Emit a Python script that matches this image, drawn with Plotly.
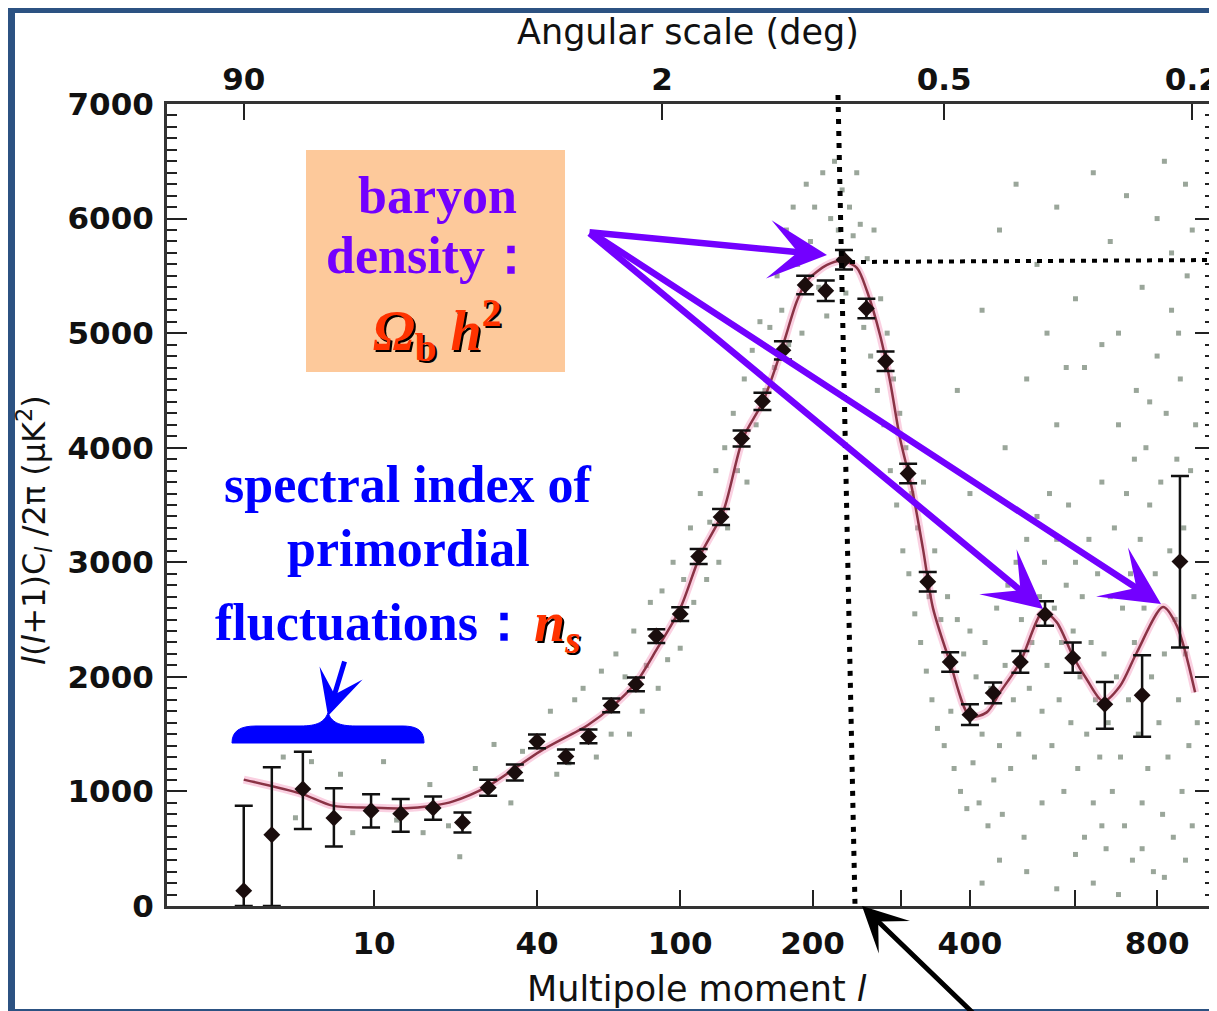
import numpy as np
import plotly.graph_objects as go

# ---------------- data ----------------
ell = [2, 3, 4.5, 6.5, 9.7, 13, 17.5, 22.5, 27.7, 34, 40, 49, 57, 66, 77, 87, 100, 111,
       125.5, 140, 156, 173, 193, 213, 232, 257, 280, 309, 336, 369, 400, 439, 488, 536,
       594, 667, 760, 864]
dl = [134, 622, 1022, 768, 832, 806, 855, 729, 1033, 1165, 1436, 1305, 1480, 1751, 1935,
      2356, 2548, 3050, 3395, 4080, 4405, 4850, 5420, 5370, 5640, 5215, 4755, 3775, 2830,
      2130, 1670, 1860, 2130, 2545, 2165, 1760, 1839, 3006]
err_hi = [742, 589, 324, 259, 143, 128, 100, 88, 70, 70, 60, 60, 60, 60, 60, 60, 60, 65,
          70, 70, 75, 80, 80, 90, 85, 85, 85, 85, 85, 85, 90, 90, 95, 115, 135, 195, 350, 748]
err_lo = [134, 622, 350, 249, 146, 158, 102, 87, 70, 70, 60, 60, 60, 60, 60, 60, 60, 65,
          70, 70, 75, 80, 80, 90, 85, 85, 85, 85, 85, 85, 90, 90, 95, 100, 130, 213, 362, 750]

model_ell = [2, 4.4, 6.4, 9.7, 13.1, 17.5, 20.8, 27.4, 40.9, 56.8, 66.4, 77, 87.3, 99.9,
             111.8, 126.9, 141, 156.5, 172.2, 185.4, 194.6, 214.3, 230.9, 246.2, 257.7,
             273.3, 285.6, 298.4, 314.2, 329.3, 343.5, 368.7, 400, 427.8, 451, 487.6, 532,
             559.8, 594.6, 625, 662.8, 703.5, 746.5, 816.2, 855.4, 908.4]
model_dl = [1103, 981, 876, 858, 852, 876, 913, 1039, 1350, 1580, 1740, 1950, 2242, 2592,
            3056, 3441, 4081, 4405, 4869, 5280, 5455, 5595, 5630, 5569, 5368, 4982, 4580,
            4081, 3643, 3117, 2600, 2128, 1655, 1690, 1865, 2128, 2566, 2478, 2180, 1979,
            1786, 1918, 2215, 2609, 2443, 1865]

# unbinned (grey) measurements, estimated
dot_ell = [5, 11, 17, 22, 29, 8, 12.5, 4.1, 16, 3.5, 7, 25, 20, 33, 36,
           44, 46, 50, 52, 55, 60, 62, 66, 68, 72, 74, 76, 80, 82, 84, 88, 90, 93, 96, 100,
           102, 106, 108, 112, 116, 118, 122, 124, 128, 130, 134, 137, 142, 144, 148, 151,
           154, 158, 162, 166, 168, 172, 176, 178, 182, 186, 190, 194, 198, 202, 206, 210,
           214, 218, 222, 226, 230, 234, 238, 242, 246, 250, 254, 258, 262, 266, 270, 274,
           278, 282, 286, 290, 294, 298, 302, 306, 310, 314, 318, 322, 326, 330, 334, 338,
           342, 346, 350, 355, 360, 365, 370, 375, 380, 385, 390, 395, 400, 405, 410, 415,
           420, 425, 430, 435, 440, 445, 450, 455, 460, 465, 470, 475, 480, 485, 490, 495,
           500, 505, 510, 515, 520, 525, 530, 535, 540, 545, 550, 555, 560, 565, 570, 575,
           580, 585, 590, 595, 600, 605, 610, 615, 620, 625, 630, 635, 640, 645, 650, 655,
           660, 665, 670, 675, 680, 685, 690, 695, 700, 705, 710, 715, 720, 725, 730, 735,
           740, 745, 750, 755, 760, 765, 770, 775, 780, 785, 790, 795, 800, 805, 810, 815,
           820, 825, 830, 835, 840, 845, 850, 855, 860, 865, 870, 875, 880, 885, 890, 895,
           900, 905, 910, 915,
           450, 480, 520, 560, 600, 640, 680, 720, 760, 800, 840, 880, 620, 700, 780, 860,
           500, 560, 660, 740, 820, 900, 380, 420, 400, 460, 540, 580,
           420, 500, 560, 640, 700, 760, 820, 880, 450, 530, 600, 660]
dot_dl = [1260, 1260, 1060, 430, 1410, 640, 750, 770, 640, 1300, 1150, 1200, 700, 900, 1350,
          1700, 1150, 1250, 1800, 1900, 1300, 2050, 1500, 2200, 2000, 1500, 2400, 1700, 2100,
          2650, 1900, 2750, 2150, 3000, 2250, 2850, 3300, 2650, 3600, 2850, 3350, 3800, 3000,
          4000, 3300, 4300, 3800, 4600, 3700, 4850, 4200, 5100, 4500, 5050, 4700, 5500, 5200,
          5900, 4900, 6100, 5600, 5000, 6300, 5800, 6100, 5400, 6400, 5150, 6000, 6500, 5900,
          6250, 5350, 6100, 5850, 6400, 5950, 5050, 5650, 4800, 5900, 4500, 5300, 4200, 5000,
          3800, 4600, 3500, 4300, 3100, 4000, 2900, 3600, 2550, 3300, 2300, 3700, 2050, 2700,
          1800, 3100, 1550, 2500, 1400, 2700, 1700, 1200, 2500, 1000, 2200, 850, 2400, 1250,
          2000, 900, 1500, 2300, 700, 1900, 1100, 2600, 1400, 800, 2100, 2800, 1200, 1800,
          3000, 1500, 2500, 600, 3200, 1900, 2300, 1300, 3400, 2700, 1700, 3000, 2100, 3600,
          1400, 2600, 3200, 1800, 2300, 1000, 2800, 3500, 1600, 2400, 3000, 1200, 2000, 2700,
          600, 1500, 3200, 2300, 900, 1800, 2900, 1300, 3700, 2200, 500, 1600, 2700, 1000,
          3300, 2000, 4200, 1300, 2600, 700, 3600, 1800, 2900, 400, 2300, 4500, 1500, 3200,
          900, 2600, 4000, 1200, 3500, 2000, 300, 2900, 4800, 1600, 3700, 800, 2200, 4300,
          1300, 3100, 5200, 600, 2500, 3900, 1800, 4600, 1000, 3300, 2200, 5500, 1400, 3800,
          700, 2700, 4200, 1600,
          5900, 6300, 5600, 6100, 5300, 6400, 5800, 6200, 5400, 6000, 5700, 6300, 4700, 5000,
          4400, 5000, 4600, 4200, 4900, 3900, 6500, 5900, 4500, 5200, 3600, 4000, 5000, 4700,
          200, 300, 150, 200, 100, 500, 250, 400, 400, 900, 450, 700]

bottom_ticks = [10, 40, 100, 200, 300, 400, 600, 800]
bottom_labels = ["10", "40", "100", "200", "", "400", "", "800"]
top_ticks_deg = [90, 2, 0.5, 0.2]
top_labels = ["90", "2", "0.5", "0.2"]
y_ticks = [0, 1000, 2000, 3000, 4000, 5000, 6000, 7000]


def u(v):
    """Multipole axis scale used by the original plot (l^0.25)."""
    return np.asarray(v, dtype=float) ** 0.25


# ---------------- layout geometry (screen pixels) ----------------
W, H = 1217, 1011
OFF = 8                      # page offset of the plot div
L, R, T, B = 167, 1215, 104, 906   # plot area as seen on screen


def px(x):
    return (x - L) / (R - L)


def py(y):
    return (B - y) / (B - T)


def path_from(points):
    segs = []
    for cmd, pts in points:
        coords = " ".join(f"{px(a):.5f},{py(b):.5f}" for a, b in pts)
        segs.append(f"{cmd} {coords}")
    return " ".join(segs) + " Z"


fig = go.Figure()

# grey unbinned data
fig.add_trace(go.Scatter(
    x=u(dot_ell), y=dot_dl, mode="markers",
    marker=dict(symbol="square", size=5, color="rgba(100,118,100,0.65)", line=dict(width=0)),
    hoverinfo="skip"))

# model curve (pink halo + line)
fig.add_trace(go.Scatter(
    x=u(model_ell), y=model_dl, mode="lines",
    line=dict(color="rgba(240,120,170,0.35)", width=8, shape="spline", smoothing=0.8),
    hoverinfo="skip"))
fig.add_trace(go.Scatter(
    x=u(model_ell), y=model_dl, mode="lines",
    line=dict(color="#8a3345", width=2.5, shape="spline", smoothing=0.8),
    hoverinfo="skip"))

# binned data with error bars
fig.add_trace(go.Scatter(
    x=u(ell), y=dl, mode="markers",
    marker=dict(symbol="diamond", size=13, color="#1a0d0d"),
    error_y=dict(type="data", symmetric=False, array=err_hi, arrayminus=err_lo,
                 thickness=2.5, width=9, color="#111111")))

# invisible trace to anchor the top (angular) axis
fig.add_trace(go.Scatter(
    x=u(ell), y=dl, mode="markers", xaxis="x2",
    marker=dict(size=1, opacity=0), hoverinfo="skip"))

xr = [(L + 19.3) / 221.2, (R + 19.3) / 221.2]
tick_font = dict(family="DejaVu Sans", size=31, color="#111111", weight="bold")

fig.update_layout(
    width=W, height=H,
    margin=dict(l=L - OFF, r=W - (R - OFF), t=T - OFF, b=H - (B - OFF), pad=0,
                autoexpand=False),
    paper_bgcolor="#2c5282",
    plot_bgcolor="white",
    showlegend=False,
    xaxis=dict(
        range=xr, tickmode="array", tickvals=u(bottom_ticks), ticktext=bottom_labels,
        ticks="inside", ticklen=16, tickwidth=2, tickcolor="#222", automargin=False,
        showline=True, linewidth=3, linecolor="#333", showgrid=False, zeroline=False,
        tickfont=tick_font, ticklabelstandoff=8, ticklabeloverflow="allow"),
    xaxis2=dict(
        range=xr, overlaying="x", side="top", tickmode="array",
        tickvals=u([180.0 / d for d in top_ticks_deg]), ticktext=top_labels,
        ticks="inside", ticklen=16, tickwidth=2, tickcolor="#222", automargin=False,
        showline=True, linewidth=3, linecolor="#333", showgrid=False, zeroline=False,
        tickfont=tick_font, ticklabelstandoff=-1, ticklabeloverflow="allow"),
    yaxis=dict(
        range=[0, 7000], tickmode="array", tickvals=y_ticks, automargin=False,
        ticks="inside", ticklen=20, tickwidth=2, tickcolor="#222",
        minor=dict(dtick=100, ticklen=10, tickwidth=1.5, tickcolor="#222", ticks="inside"),
        showline=True, linewidth=3, linecolor="#333", mirror="ticks",
        showgrid=False, zeroline=False, tickfont=tick_font, ticklabelstandoff=4,
        ticklabeloverflow="allow"),
)

shapes = []
# white page inside the blue frame
shapes.append(dict(type="rect", xref="paper", yref="paper", layer="below",
                   x0=px(OFF + 7), x1=px(1240), y0=py(1009), y1=py(OFF + 5),
                   fillcolor="white", line=dict(width=0)))
# orange box
shapes.append(dict(type="rect", xref="paper", yref="paper", layer="above",
                   x0=px(306), x1=px(565), y0=py(372), y1=py(150),
                   fillcolor="#fdc99b", line=dict(width=0)))
# dotted guide lines
shapes.append(dict(type="line", xref="paper", yref="paper", layer="above",
                   x0=px(838), y0=py(95), x1=px(855), y1=py(905),
                   line=dict(color="black", width=5, dash="5px,7px")))
shapes.append(dict(type="line", xref="paper", yref="paper", layer="above",
                   x0=px(850), y0=py(262), x1=px(1217), y1=py(260),
                   line=dict(color="black", width=4, dash="5px,6px")))
# blue horizontal brace
brace = path_from([
    ("M", [(232, 743)]),
    ("C", [(232, 731), (240, 726), (256, 726)]),
    ("L", [(300, 726)]),
    ("C", [(318, 726), (324, 722), (328, 713)]),
    ("C", [(332, 722), (338, 726), (356, 726)]),
    ("L", [(402, 726)]),
    ("C", [(418, 726), (424, 731), (424, 743)]),
])
shapes.append(dict(type="path", xref="paper", yref="paper", layer="above", path=brace,
                   fillcolor="#0000ff", line=dict(color="#0000ff", width=1)))
fig.update_layout(shapes=shapes)

ann = []
serif = "Liberation Serif"
purple = "#7300ff"
blue = "#0000ff"
red = "#ff3300"


def text(x, y, s, color, size, xanchor="center", shadow=None, family=serif, weight="bold",
         angle=0):
    f = dict(family=family, size=size, color=color, weight=weight)
    if shadow:
        f["shadow"] = shadow
    ann.append(dict(xref="paper", yref="paper", x=px(x), y=py(y), text=s, showarrow=False,
                    font=f, xanchor=xanchor, yanchor="middle", textangle=angle))


def arrow(tip, tail, color, width, size=1.0):
    ann.append(dict(xref="paper", yref="paper", x=px(tip[0]), y=py(tip[1]),
                    ax=tail[0] - tip[0], ay=tail[1] - tip[1], text="", showarrow=True,
                    arrowhead=3, arrowsize=size, arrowwidth=width, arrowcolor=color,
                    standoff=0))


# axis titles
text(688, 32, "Angular scale (deg)", "#111", 35, family="DejaVu Sans", weight="normal")
text(697, 989, "Multipole moment <i>l</i>", "#111", 35, family="DejaVu Sans", weight="normal")
text(34, 530, "<i>l</i>(<i>l</i>+1)C<sub><i>l</i></sub> /2π (μK<sup>2</sup>)", "#111", 32,
     family="DejaVu Sans", weight="normal", angle=-90)

# baryon density box text
text(437, 196, "baryon", purple, 52)
text(431, 256, "density：", purple, 52)
text(437, 330, "<i>Ω</i><sub>b</sub> <i>h</i><sup>2</sup>", red, 56,
     shadow="2px 2px 0px #000000")

# spectral index text
text(408, 484, "spectral index of", blue, 52)
text(408, 548, "primordial", blue, 52)
text(372, 622, "fluctuations：", blue, 52)
text(532, 626, "<i>n</i><sub><i>s</i></sub>", red, 56, xanchor="left",
     shadow="2px 2px 0px #000000")

# arrows
arrow((827, 255), (588, 232), purple, 6.5, 1.5)
arrow((1043, 609), (588, 232), purple, 6.5, 1.5)
arrow((1161, 604), (592, 233), purple, 6.5, 1.5)
arrow((328, 716), (345, 660), blue, 5, 1.5)
arrow((862, 906), (975, 1015), "black", 5, 1.5)

fig.update_layout(annotations=ann)

fig.write_html("out.html")
